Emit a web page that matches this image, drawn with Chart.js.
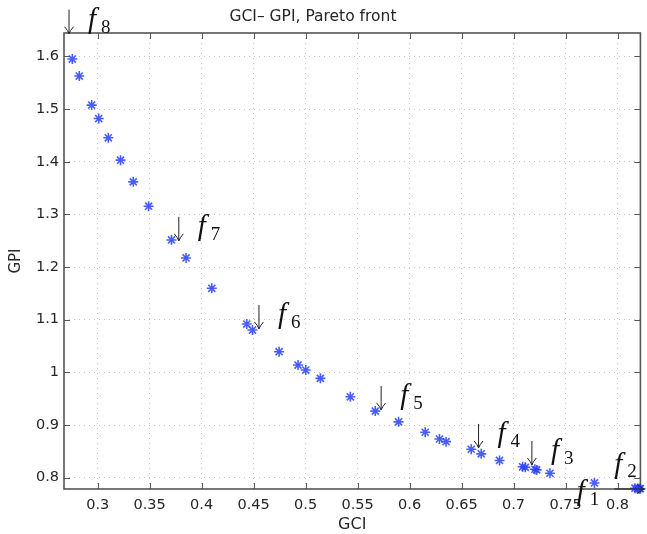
<!DOCTYPE html>
<html>
<head>
<meta charset="utf-8">
<script src="https://cdn.jsdelivr.net/npm/chart.js@4/dist/chart.umd.min.js"></script>
<style>
  html, body { margin: 0; padding: 0; background: #fff; }
  canvas { display: block; }
</style>
</head>
<body>
<canvas id="front" width="647" height="534"></canvas>
<script>
// Pareto front: GCI (x) against GPI (y)
const gci = [0.2756, 0.2823, 0.2942, 0.3010, 0.3102, 0.3220, 0.3342, 0.3490, 0.3710, 0.3850,
             0.4098, 0.4434, 0.4489, 0.4745, 0.4927, 0.5001, 0.5142, 0.5430, 0.5670, 0.5894,
             0.6150, 0.6287, 0.6351, 0.6593, 0.6689, 0.6865, 0.7087, 0.7113, 0.7205, 0.7222,
             0.7350, 0.7778, 0.8168, 0.8192, 0.8208, 0.8220];
const gpi = [1.5950, 1.5627, 1.5076, 1.4820, 1.4455, 1.4030, 1.3618, 1.3156, 1.2515, 1.2173,
             1.1597, 1.0918, 1.0804, 1.0392, 1.0139, 1.0044, 0.9886, 0.9536, 0.9264, 0.9060,
             0.8863, 0.8735, 0.8684, 0.8540, 0.8453, 0.8327, 0.8207, 0.8196, 0.8160, 0.8148,
             0.8084, 0.7900, 0.7800, 0.7796, 0.7792, 0.7790];

// axis limits and tick values
const xRange = [0.2676, 0.822];
const yRange = [0.7785, 1.6445];
const xTicks = [0.3, 0.35, 0.4, 0.45, 0.5, 0.55, 0.6, 0.65, 0.7, 0.75, 0.8];
const yTicks = [0.8, 0.9, 1, 1.1, 1.2, 1.3, 1.4, 1.5, 1.6];

// solution labels f_k: text anchor (left, baseline) in data units, and arrow kind
const frontIds   = ['8', '7', '6', '5', '4', '3', '2', '1'];
const frontX     = [0.2907, 0.3963, 0.4734, 0.5909, 0.6846, 0.7359, 0.7969, 0.7607];
const frontY     = [1.6536, 1.2602, 1.0930, 0.9391, 0.8669, 0.8346, 0.8089, 0.7576];
const frontArrow = ['down', 'down', 'down', 'down', 'down', 'down', 'right', 'none'];

const chartTitle = 'GCI\u2013 GPI, Pareto front';
const xTitle = 'GCI';
const yTitle = 'GPI';

const axisColor = '#555';
const textColor = '#262626';
const sans = '"DejaVu Sans", sans-serif';

// box around the plot area with inward ticks on all four sides
const framePlugin = {
  id: 'frame',
  beforeDatasetsDraw(chart) {
    const { ctx, chartArea: a, scales: { x, y } } = chart;
    ctx.save();
    ctx.strokeStyle = axisColor;
    ctx.lineWidth = 1;
    ctx.beginPath();
    x.ticks.forEach(t => {
      const px = Math.round(x.getPixelForValue(t.value)) + 0.5;
      ctx.moveTo(px, a.bottom); ctx.lineTo(px, a.bottom - 6);
      ctx.moveTo(px, a.top);    ctx.lineTo(px, a.top + 6);
    });
    y.ticks.forEach(t => {
      const py = Math.round(y.getPixelForValue(t.value)) + 0.5;
      ctx.moveTo(a.left, py);  ctx.lineTo(a.left + 6, py);
      ctx.moveTo(a.right, py); ctx.lineTo(a.right - 6, py);
    });
    ctx.stroke();
    ctx.lineWidth = 1.6;
    ctx.strokeRect(a.left, a.top, a.right - a.left, a.bottom - a.top);
    ctx.restore();
  },
  afterDraw(chart) {
    const { ctx } = chart;
    ctx.save();
    ctx.fillStyle = textColor;
    ctx.font = '15.5px ' + sans;
    ctx.textAlign = 'center';
    ctx.textBaseline = 'middle';
    ctx.fillText(chartTitle, 313, 17);
    ctx.restore();
  }
};

function arrowDown(ctx, tx, ty) {
  ctx.beginPath();
  ctx.moveTo(tx, ty - 24); ctx.lineTo(tx, ty);
  ctx.moveTo(tx - 4.5, ty - 7); ctx.quadraticCurveTo(tx - 1, ty - 3, tx, ty);
  ctx.moveTo(tx + 4.5, ty - 7); ctx.quadraticCurveTo(tx + 1, ty - 3, tx, ty);
  ctx.stroke();
}

function arrowRight(ctx, tx, ty) {
  ctx.beginPath();
  ctx.moveTo(tx - 30, ty); ctx.lineTo(tx, ty);
  ctx.moveTo(tx - 7, ty - 4.5); ctx.quadraticCurveTo(tx - 3, ty - 1, tx, ty);
  ctx.moveTo(tx - 7, ty + 4.5); ctx.quadraticCurveTo(tx - 3, ty + 1, tx, ty);
  ctx.stroke();
}

// f_k labels with their pointer arrows
const labelPlugin = {
  id: 'frontLabels',
  afterDatasetsDraw(chart) {
    const { ctx, scales: { x, y } } = chart;
    ctx.save();
    ctx.fillStyle = '#111';
    ctx.strokeStyle = '#222';
    ctx.lineWidth = 1;
    ctx.textAlign = 'left';
    ctx.textBaseline = 'alphabetic';
    frontIds.forEach((id, i) => {
      const fx = x.getPixelForValue(frontX[i]);
      const fy = y.getPixelForValue(frontY[i]);
      ctx.font = 'italic 29px "Liberation Serif", serif';
      ctx.fillText('f', fx, fy);
      ctx.font = '19px "Liberation Serif", serif';
      ctx.fillText(id, fx + 13, fy + 4.5);
      if (frontArrow[i] === 'down') arrowDown(ctx, fx - 19, fy + 5.5);
      else if (frontArrow[i] === 'right') arrowRight(ctx, fx + 30, fy + 16);
    });
    ctx.restore();
  }
};

new Chart(document.getElementById('front'), {
  type: 'scatter',
  data: {
    datasets: [{
      data: gci.map((v, i) => ({ x: v, y: gpi[i] })),
      pointStyle: 'star',
      radius: 5,
      borderColor: 'rgba(40, 65, 255, 0.85)',
      backgroundColor: 'rgba(40, 65, 255, 0.85)',
      borderWidth: 1.6,
      clip: false
    }]
  },
  options: {
    responsive: false,
    animation: false,
    devicePixelRatio: 1,
    layout: { padding: { left: 0, right: 6, top: 33, bottom: 0 } },
    plugins: { legend: { display: false }, tooltip: { enabled: false } },
    scales: {
      x: {
        type: 'linear',
        position: 'bottom',
        min: xRange[0],
        max: xRange[1],
        afterBuildTicks: s => { s.ticks = xTicks.map(v => ({ value: v })); },
        afterFit: s => { s.height = 45; },
        ticks: {
          padding: 8, color: textColor, autoSkip: false, maxRotation: 0,
          font: { family: sans, size: 14.5, lineHeight: 1.2 },
          callback: v => String(v)
        },
        grid: { color: '#c4c4c4', lineWidth: 1, drawTicks: false },
        border: { display: false, dash: [1, 4] },
        title: {
          display: true, text: xTitle, color: textColor,
          font: { family: sans, size: 16, lineHeight: 1.2 },
          padding: { top: 0, bottom: 0 }
        }
      },
      y: {
        type: 'linear',
        position: 'left',
        min: yRange[0],
        max: yRange[1],
        afterBuildTicks: s => { s.ticks = yTicks.map(v => ({ value: v })); },
        afterFit: s => { s.width = 64; },
        ticks: {
          padding: 5, color: textColor, autoSkip: false,
          font: { family: sans, size: 14.5, lineHeight: 1.2 },
          callback: v => String(v)
        },
        grid: { color: '#c4c4c4', lineWidth: 1, drawTicks: false },
        border: { display: false, dash: [1, 4] },
        title: {
          display: true, text: yTitle, color: textColor,
          font: { family: sans, size: 15, lineHeight: 1.2 },
          padding: { top: 7, bottom: 0 }
        }
      }
    }
  },
  plugins: [framePlugin, labelPlugin]
});
</script>
</body>
</html>
